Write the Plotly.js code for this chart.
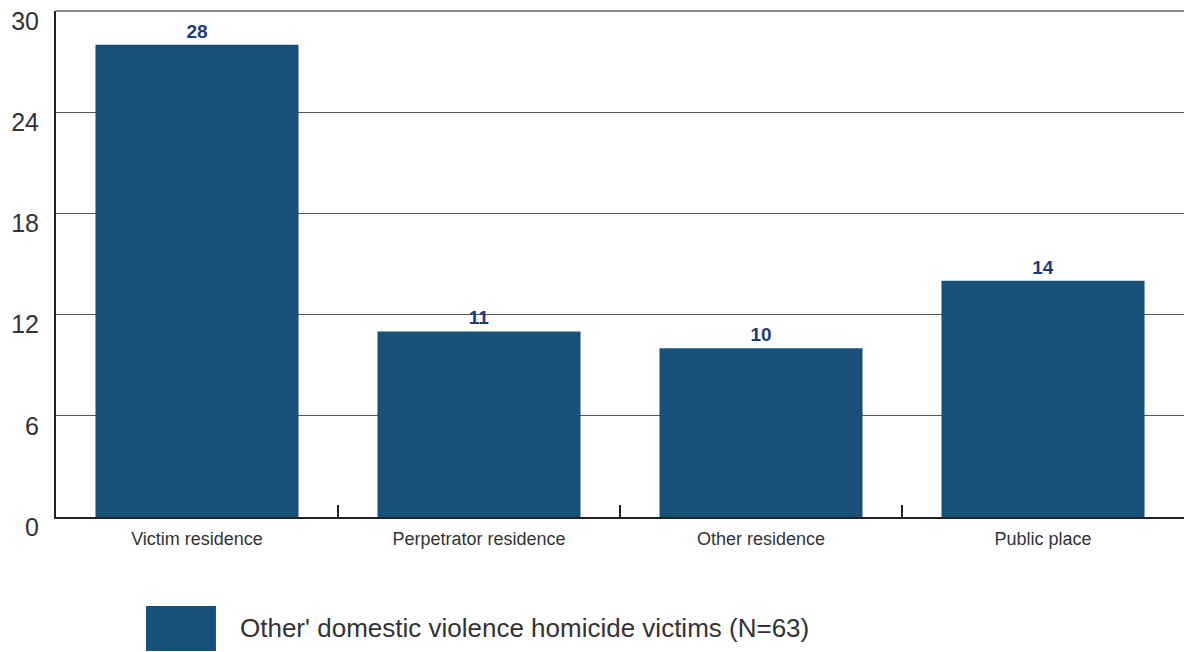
<!DOCTYPE html>
<html>
<head>
<meta charset="utf-8">
<script src="https://cdn.plot.ly/plotly-3.0.1.min.js"></script>
<style>html,body{margin:0;padding:0;background:#fff;}#chart{width:1184px;height:652px;}</style>
</head>
<body>
<div id="chart"></div>
<script>
const categories = ["Victim residence", "Perpetrator residence", "Other residence", "Public place"];
const values = [28, 11, 10, 14];
const seriesName = "Other' domestic violence homicide victims (N=63)";
const yTicks = [0, 6, 12, 18, 24, 30];

const barColor = "#175079";
const fontFam = "Liberation Sans, Arial, sans-serif";

const trace = {
  type: "bar",
  x: categories,
  y: values,
  name: seriesName,
  marker: {color: barColor, line: {width: 0}},
  width: 0.72,
  text: values.map(String),
  textposition: "outside",
  cliponaxis: false,
  textfont: {family: fontFam, size: 19, color: "#1f3a7a", weight: "bold"},
  hoverinfo: "x+y"
};

const layout = {
  width: 1184, height: 652,
  margin: {l: 56, r: 0, t: 11, b: 135},
  paper_bgcolor: "#fff", plot_bgcolor: "#fff",
  showlegend: false,
  font: {family: fontFam, color: "#333"},
  xaxis: {
    type: "category",
    showline: true, linecolor: "#222", linewidth: 2,
    ticks: "inside", tickson: "boundaries", ticklen: 12, tickwidth: 2, tickcolor: "#222",
    tickfont: {size: 18, color: "#333"},
    ticklabelstandoff: 4,
    showgrid: false, zeroline: false, fixedrange: true
  },
  yaxis: {
    range: [0, 30],
    tickvals: yTicks,
    ticktext: yTicks.map(String),
    showline: true, linecolor: "#222", linewidth: 2,
    ticks: "", showgrid: true, gridcolor: "#555", gridwidth: 1,
    zeroline: false,
    tickfont: {size: 25, color: "#333"},
    ticklabelshift: 10, ticklabelstandoff: 10,
    fixedrange: true
  },
  shapes: [
    {type: "line", xref: "paper", yref: "paper", x0: 0, x1: 1, y0: 1, y1: 1,
     line: {color: "#888", width: 2}},
    {type: "rect", xref: "paper", yref: "paper", x0: 0.0798, x1: 0.1418, y0: -0.2648, y1: -0.1759,
     fillcolor: barColor, line: {width: 0}}
  ],
  annotations: [
    {xref: "paper", yref: "paper", x: 0.1613, y: -0.2194, xanchor: "left", yanchor: "middle",
     text: seriesName, showarrow: false, font: {size: 26, color: "#333", family: fontFam}}
  ]
};

Plotly.newPlot("chart", [trace], layout, {displayModeBar: false, staticPlot: true});
</script>
</body>
</html>
